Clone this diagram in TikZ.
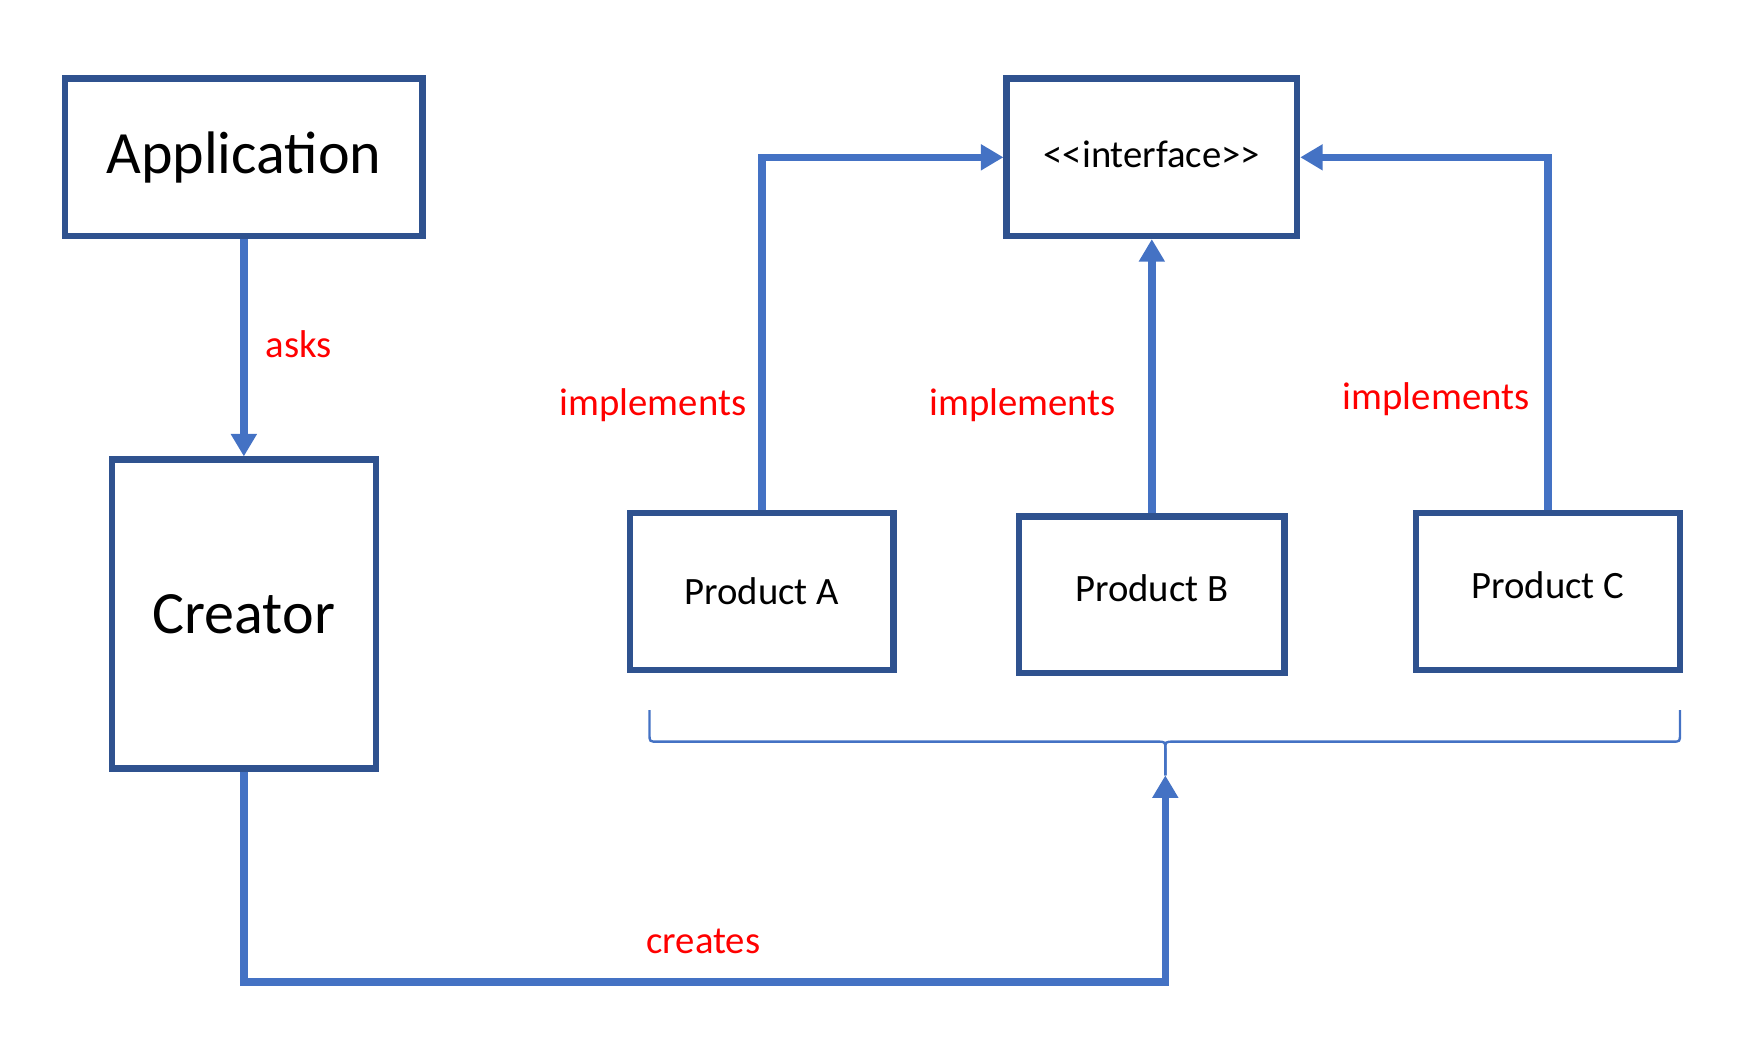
\documentclass[tikz,border=0pt]{standalone}
\usepackage{fontspec}
\setmainfont{Carlito}
\usetikzlibrary{arrows.meta}

\definecolor{boxblue}{HTML}{2F528F}
\definecolor{linkblue}{HTML}{4472C4}
\definecolor{labelred}{HTML}{FF0000}

\begin{document}
\begin{tikzpicture}[
    box/.style={draw=boxblue, line width=1.6pt, inner sep=0pt},
    bigbox/.style={box, font=\fontsize{15.2}{18}\selectfont},
    smallbox/.style={box, font=\fontsize{9.8}{12}\selectfont},
    link/.style={draw=linkblue, line width=1.9pt, -{Triangle[length=0.2cm,width=0.22cm]}},
    brace/.style={draw=linkblue, line width=0.6pt},
    tag/.style={text=labelred, font=\fontsize{9.8}{12}\selectfont},
]
\useasboundingbox (0,0) rectangle (15.68,-9.30);

% Left column.
\node[bigbox, minimum width=3.18cm, minimum height=1.40cm] (app) at (2.17,-1.40) {Application};
\node[bigbox, minimum width=2.35cm, minimum height=2.75cm] (creator) at (2.17,-5.465) {Creator};

% Interface.
\node[smallbox, minimum width=2.585cm, minimum height=1.40cm, text depth=0.06cm] (iface) at (10.25,-1.40) {<{}<interface>{}>};

% Products.
\node[smallbox, minimum width=2.345cm, minimum height=1.395cm] (prodA) at (6.78,-5.263) {Product A};
\node[smallbox, minimum width=2.36cm, minimum height=1.395cm, text depth=0.12cm] (prodB) at (10.25,-5.293) {Product B};
\node[smallbox, minimum width=2.35cm, minimum height=1.395cm, text depth=0.12cm] (prodC) at (13.775,-5.263) {Product C};

% Brace under the products.
\coordinate (tip) at (10.37,-6.90);
\draw[brace] (5.78,-6.32) -- (5.78,-6.53) .. controls (5.78,-6.60) .. (5.85,-6.60)
    -- (10.30,-6.60) .. controls (10.37,-6.60) .. (10.37,-6.67) -- (tip);
\draw[brace] (14.95,-6.32) -- (14.95,-6.53) .. controls (14.95,-6.60) .. (14.88,-6.60)
    -- (10.44,-6.60) .. controls (10.37,-6.60) .. (10.37,-6.67) -- (tip);

% Links.
\coordinate (turn) at (2.17,-8.74);
\draw[link] (app) -- (creator);
\draw[link] (prodA) |- (iface);
\draw[link] (prodB) -- (iface);
\draw[link] (prodC) |- (iface);
\draw[link] (creator) -- (turn) -| (tip);

% Labels.
\node[tag] (asks) at (2.66,-3.06) {asks};
\node[tag] (implA) at (5.81,-3.61) {implements};
\node[tag] (implB) at (9.10,-3.61) {implements};
\node[tag] (implC) at (12.78,-3.55) {implements};
\node[tag] (creates) at (6.26,-8.38) {creates};
\end{tikzpicture}
\end{document}
